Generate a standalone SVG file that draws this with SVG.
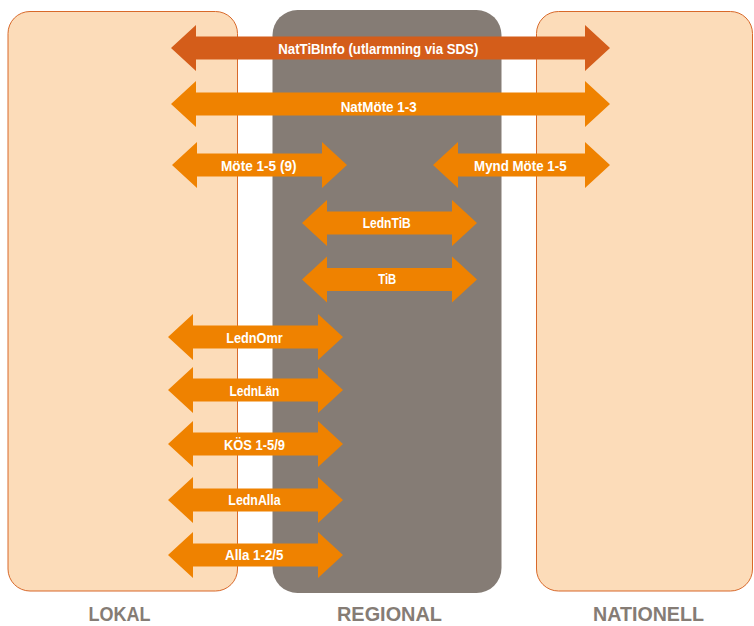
<svg xmlns="http://www.w3.org/2000/svg" width="754" height="626" viewBox="0 0 754 626">
<style>
.side{fill:#fcdcb9;stroke:#d8692a;stroke-width:1}
.reg{fill:#857c75}
.arr{fill:#ef8200}
.arr1{fill:#d45d1a}
.lbl{font-family:"Liberation Sans",Arial,sans-serif;font-weight:bold;font-size:14px;fill:#ffffff;text-anchor:middle}
.col{font-family:"Liberation Sans",Arial,sans-serif;font-weight:bold;font-size:21px;fill:#857c75;text-anchor:middle}
</style>
<rect x="0" y="0" width="754" height="626" fill="#ffffff"/>
<g id="lokal">
<rect class="side" x="8" y="11.5" width="229.5" height="579.5" rx="22"/>
<text class="col" x="119.5" y="621" textLength="62" lengthAdjust="spacingAndGlyphs">LOKAL</text>
</g>
<g id="regional">
<rect class="reg" x="272.5" y="10" width="229" height="583" rx="25"/>
<text class="col" x="389.5" y="621" textLength="105" lengthAdjust="spacingAndGlyphs">REGIONAL</text>
</g>
<g id="nationell">
<rect class="side" x="536.5" y="11.5" width="216" height="579.5" rx="22"/>
<text class="col" x="648.5" y="621" textLength="111" lengthAdjust="spacingAndGlyphs">NATIONELL</text>
</g>
<g id="connectors">
<path class="arr1" d="M171,48 L196,25 L196,36.5 L585,36.5 L585,25 L610,48 L585,71 L585,59.5 L196,59.5 L196,71 Z"/>
<text class="lbl" x="378.3" y="54" textLength="200" lengthAdjust="spacingAndGlyphs">NatTiBInfo (utlarmning via SDS)</text>
<path class="arr" d="M171,104 L196,81 L196,92.5 L585,92.5 L585,81 L610,104 L585,127 L585,115.5 L196,115.5 L196,127 Z"/>
<text class="lbl" x="378.7" y="111.5" textLength="76" lengthAdjust="spacingAndGlyphs">NatMöte 1-3</text>
<path class="arr" d="M172,165 L197,142 L197,153.5 L322,153.5 L322,142 L347,165 L322,188 L322,176.5 L197,176.5 L197,188 Z"/>
<text class="lbl" x="258.8" y="170.5" textLength="75.5" lengthAdjust="spacingAndGlyphs">Möte 1-5 (9)</text>
<path class="arr" d="M433,165 L458,142 L458,153.5 L585,153.5 L585,142 L610,165 L585,188 L585,176.5 L458,176.5 L458,188 Z"/>
<text class="lbl" x="520.3" y="170.5" textLength="92.5" lengthAdjust="spacingAndGlyphs">Mynd Möte 1-5</text>
<path class="arr" d="M302,223 L327,200 L327,211.5 L452,211.5 L452,200 L477,223 L452,246 L452,234.5 L327,234.5 L327,246 Z"/>
<text class="lbl" x="386.7" y="228" textLength="48" lengthAdjust="spacingAndGlyphs">LednTiB</text>
<path class="arr" d="M302,279.5 L327,256.5 L327,268 L452,268 L452,256.5 L477,279.5 L452,302.5 L452,291 L327,291 L327,302.5 Z"/>
<text class="lbl" x="387.2" y="284.3" textLength="18" lengthAdjust="spacingAndGlyphs">TiB</text>
<path class="arr" d="M168,337 L193,314 L193,325.5 L318,325.5 L318,314 L343,337 L318,360 L318,348.5 L193,348.5 L193,360 Z"/>
<text class="lbl" x="254.4" y="343.3" textLength="56.5" lengthAdjust="spacingAndGlyphs">LednOmr</text>
<path class="arr" d="M168,390 L193,367 L193,378.5 L318,378.5 L318,367 L343,390 L318,413 L318,401.5 L193,401.5 L193,413 Z"/>
<text class="lbl" x="254.4" y="396" textLength="50" lengthAdjust="spacingAndGlyphs">LednLän</text>
<path class="arr" d="M168,444 L193,421 L193,432.5 L318,432.5 L318,421 L343,444 L318,467 L318,455.5 L193,455.5 L193,467 Z"/>
<text class="lbl" x="254.5" y="449.5" textLength="61" lengthAdjust="spacingAndGlyphs">KÖS 1-5/9</text>
<path class="arr" d="M168,500 L193,477 L193,488.5 L318,488.5 L318,477 L343,500 L318,523 L318,511.5 L193,511.5 L193,523 Z"/>
<text class="lbl" x="254.5" y="505.2" textLength="52.3" lengthAdjust="spacingAndGlyphs">LednAlla</text>
<path class="arr" d="M168,555 L193,532 L193,543.5 L318,543.5 L318,532 L343,555 L318,578 L318,566.5 L193,566.5 L193,578 Z"/>
<text class="lbl" x="254.2" y="560.3" textLength="58.3" lengthAdjust="spacingAndGlyphs">Alla 1-2/5</text>
</g>
</svg>
